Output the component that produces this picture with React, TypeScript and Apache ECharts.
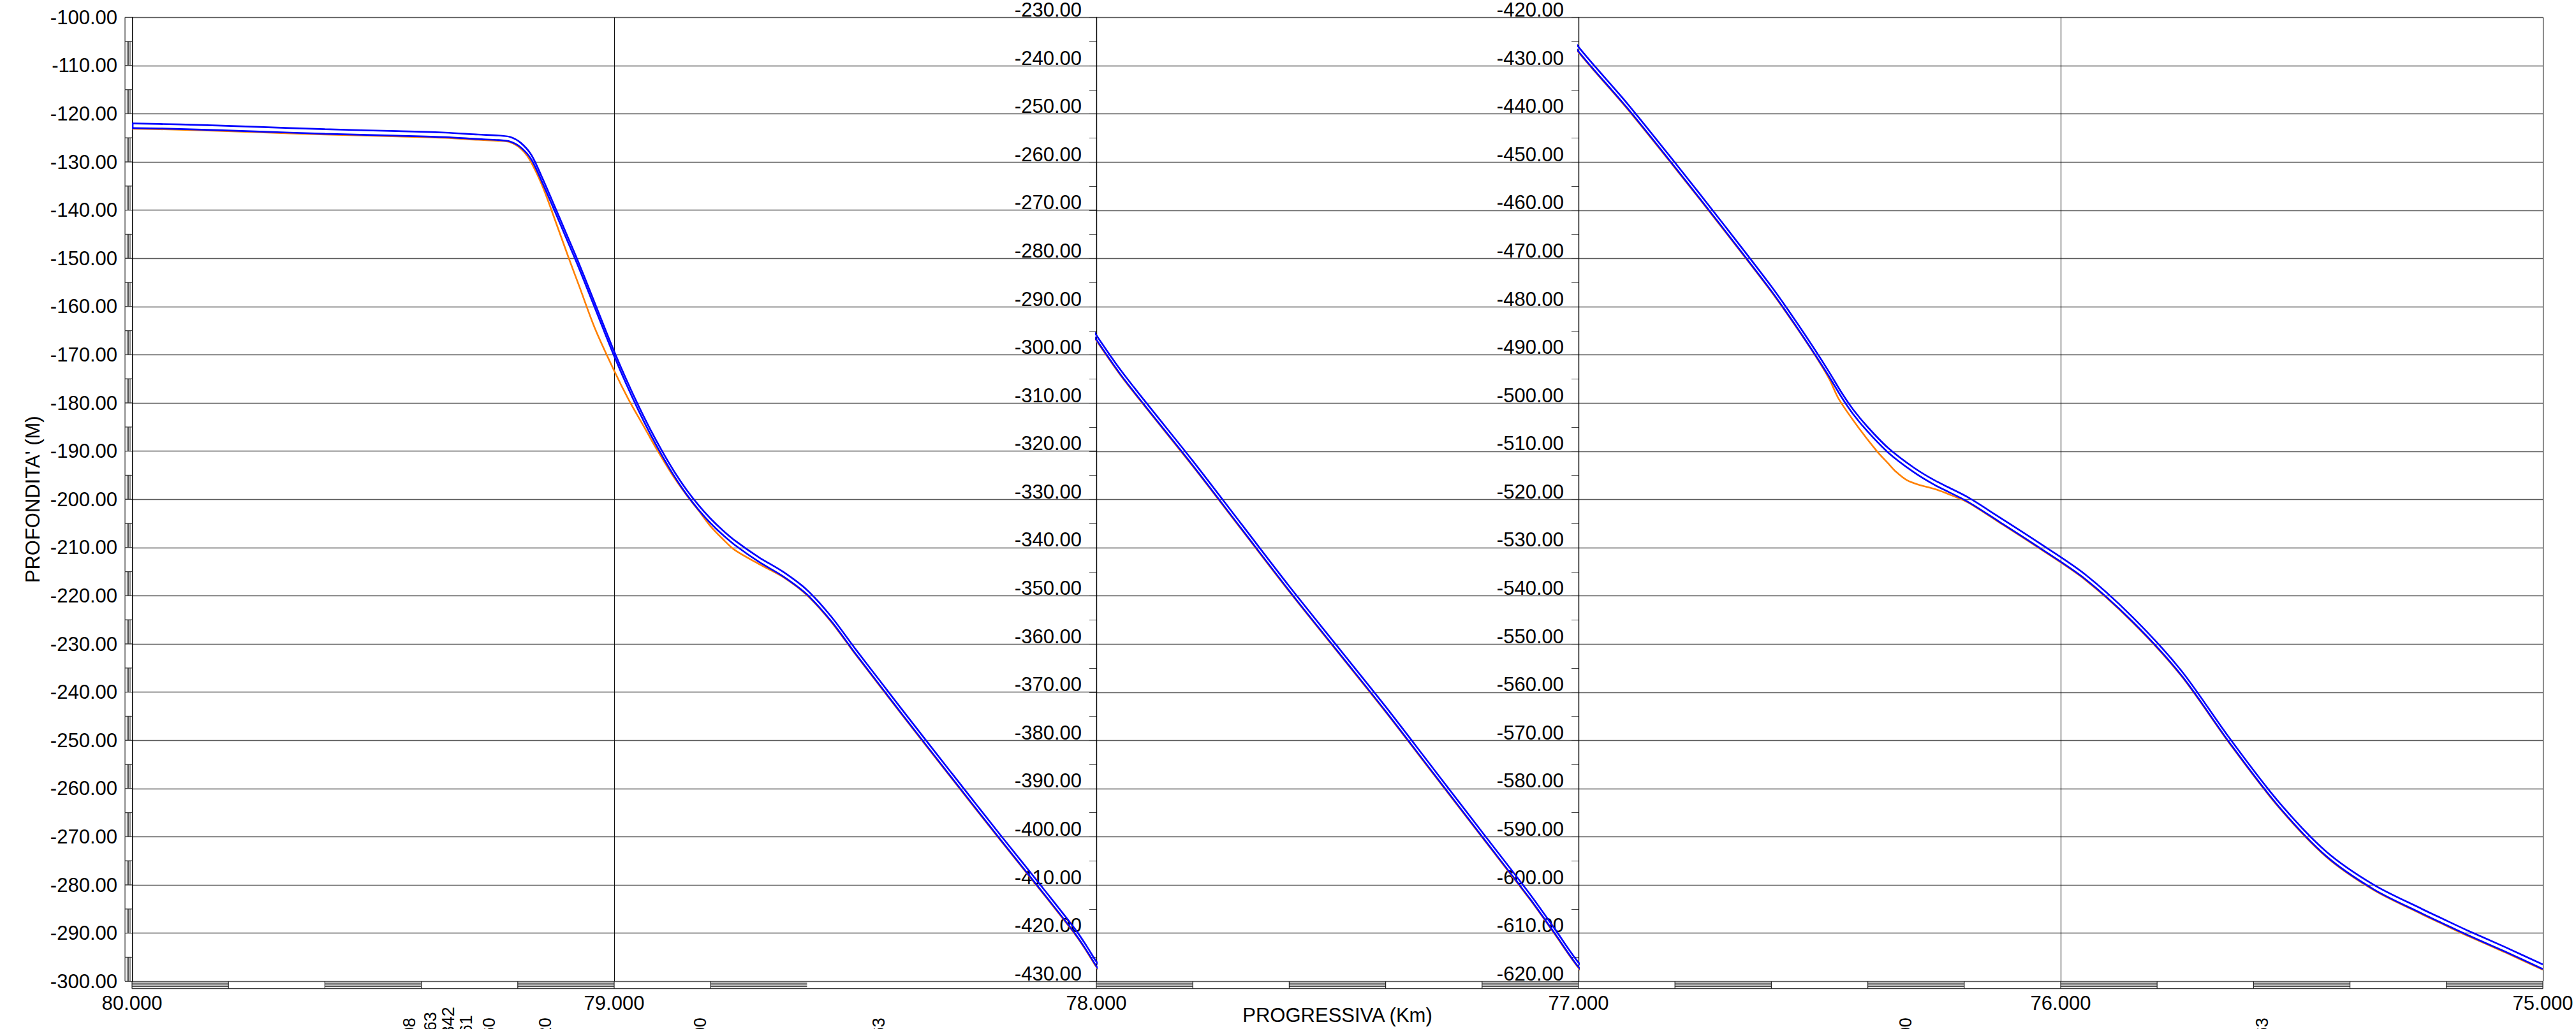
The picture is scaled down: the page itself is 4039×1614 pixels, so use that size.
import React, { useEffect, useRef } from "react";
import * as echarts from "echarts";

// ---------------- DATA ----------------
const panelKmFrom = [80, 78, 77];
const panelKmTo = [78, 77, 75];
const panelDepthTop = [-100, -230, -420];
const panelDepthBottom = [-300, -430, -620];
const kmTickLabels = ["80.000", "79.000", "78.000", "77.000", "76.000", "75.000"];
const PIPE_DIAMETER = 0.95; // m, distance between the two blue lines

// top of the pipeline (upper blue line): [km, depth m]
const pipeTop = [
  [80.0, -122.0], [79.9, -122.2], [79.745, -122.7], [79.6, -123.2], [79.45, -123.6],
  [79.35, -123.9], [79.282, -124.3], [79.24, -124.5], [79.216, -124.8], [79.194, -126.0],
  [79.172, -128.5], [79.15, -133.1], [79.123, -139.3], [79.1, -144.7], [79.077, -150.1],
  [79.05, -156.8], [79.025, -163.1], [79.0, -169.3], [78.975, -175.1], [78.95, -180.5],
  [78.925, -185.5], [78.9, -190.1], [78.875, -194.3], [78.85, -198.0], [78.825, -201.2],
  [78.8, -204.0], [78.775, -206.4], [78.75, -208.5], [78.7, -212.0], [78.65, -215.0],
  [78.6, -218.8], [78.55, -224.3], [78.5, -231.0], [78.45, -237.5], [78.4, -244.0],
  [78.3, -256.8], [78.2, -269.5], [78.1, -282.0], [78.043, -289.3], [78.02, -292.7],
  [78.0, -295.9],
  [77.95, -303.1], [77.9, -309.5], [77.8, -322.0], [77.7, -335.0], [77.6, -348.0],
  [77.5, -360.5], [77.4, -373.0], [77.3, -386.0], [77.2, -399.0], [77.1, -412.0],
  [77.05, -419.0], [77.0, -426.1],
  [76.9, -437.7], [76.8, -450.1], [76.7, -462.8], [76.6, -475.8], [76.55, -482.9],
  [76.51, -488.9], [76.48, -493.6], [76.454, -497.9], [76.43, -501.4], [76.4, -505.0],
  [76.358, -509.3], [76.306, -513.3], [76.262, -516.0], [76.193, -519.5], [76.13, -523.5],
  [76.045, -529.0], [75.95, -535.5], [75.85, -544.5], [75.75, -555.5], [75.65, -569.5],
  [75.55, -582.5], [75.45, -593.0], [75.35, -600.0], [75.25, -605.0], [75.206, -607.1],
  [75.157, -609.4], [75.08, -612.8], [75.0, -616.5],
];

// seabed (orange): [km, depth m]
const seabed = [
  [80.0, -123.1], [79.9, -123.3], [79.745, -123.8], [79.6, -124.3], [79.45, -124.7],
  [79.35, -125.0], [79.282, -125.4], [79.24, -125.6], [79.216, -125.9], [79.194, -127.2],
  [79.176, -129.4], [79.15, -134.7], [79.13, -140.0], [79.094, -150.0], [79.072, -155.9],
  [79.04, -164.5], [79.0, -173.3], [78.97, -179.3], [78.94, -184.6], [78.91, -189.9],
  [78.88, -194.8], [78.85, -199.1], [78.825, -202.3], [78.8, -205.6], [78.775, -208.2],
  [78.75, -210.5], [78.7, -213.4], [78.65, -216.1], [78.6, -219.9], [78.55, -225.4],
  [78.5, -232.1], [78.45, -238.6], [78.4, -245.1], [78.3, -257.9], [78.2, -270.6],
  [78.1, -283.1], [78.043, -290.4], [78.02, -293.8], [78.0, -297.0],
  [77.95, -304.2], [77.9, -310.6], [77.8, -323.1], [77.7, -336.1], [77.6, -349.1],
  [77.5, -361.6], [77.4, -374.1], [77.3, -387.1], [77.2, -400.1], [77.1, -413.1],
  [77.05, -420.1], [77.0, -427.2],
  [76.9, -438.8], [76.8, -451.2], [76.7, -463.9], [76.6, -476.9], [76.55, -484.0],
  [76.51, -490.0], [76.48, -495.0], [76.46, -499.2], [76.42, -505.0], [76.381, -510.0],
  [76.358, -512.5], [76.341, -514.3], [76.319, -516.0], [76.296, -516.9], [76.262, -517.8],
  [76.235, -518.8], [76.193, -520.6], [76.13, -524.6], [76.045, -530.1], [75.95, -536.6],
  [75.85, -545.6], [75.75, -556.6], [75.65, -570.6], [75.55, -583.6], [75.45, -594.1],
  [75.35, -601.1], [75.25, -606.1], [75.206, -608.2], [75.157, -610.5], [75.08, -613.9],
  [75.0, -617.6],
];

// hatched blocks of the km scale bar, and its block borders
const stripHatched = [
  [80.0, 79.8], [79.6, 79.4], [79.2, 79.0], [78.8, 78.6], [78.0, 77.8], [77.6, 77.4],
  [77.2, 77.0], [76.8, 76.6], [76.4, 76.2], [76.0, 75.8], [75.6, 75.4], [75.2, 75.0],
];
const stripBreaks = [
  80.0, 79.8, 79.6, 79.4, 79.2, 79.0, 78.8, 78.0, 77.8, 77.6, 77.4, 77.2, 77.0,
  76.8, 76.6, 76.4, 76.2, 76.0, 75.8, 75.6, 75.4, 75.2, 75.0,
];

// rotated marker labels below the axis (cut by the page edge)
const markerKm = [79.425, 79.381, 79.344, 79.307, 79.259, 79.143, 78.821, 78.451, 76.321, 75.582];
const markerText = ["08", "63", "342", "61", "60", "20", "00", "63", "00", "63"];

// ---------------- LAYOUT / STYLE ----------------
const FONT = "'Liberation Sans', Arial, Helvetica, sans-serif";
const PLOT_LEFT = 207;
const PLOT_TOP = 27.3;
const PLOT_H = 1512;
const PX_PER_KM = 756;
const STRIP = 11.4;
const markerLift = [0, 9, 17, 4, 0, 0, 0, 0, 0, 0];
const GRID_COLOR = "#5c5c5c";
const STRIP_COLOR = "#3c3c3c";
const PIPE_W = 2.7;

function buildOption() {
  const kmStart = panelKmFrom[0];
  const kmEnd = panelKmTo[panelKmTo.length - 1];
  const nP = panelKmFrom.length;
  const grids: any[] = panelKmFrom.map((f, i) => ({
    left: PLOT_LEFT + (kmStart - f) * PX_PER_KM,
    top: PLOT_TOP,
    width: (f - panelKmTo[i]) * PX_PER_KM,
    height: PLOT_H,
    containLabel: false,
  }));
  const OV = nP;
  grids.push({
    left: PLOT_LEFT,
    top: PLOT_TOP,
    width: (kmStart - kmEnd) * PX_PER_KM,
    height: PLOT_H,
    containLabel: false,
  });

  const xAxes: any[] = panelKmFrom.map((f, i) => ({
    type: "value",
    gridIndex: i,
    min: panelKmTo[i],
    max: f,
    inverse: true,
    show: false,
  }));
  xAxes.push({
    type: "value",
    gridIndex: OV,
    min: kmEnd,
    max: kmStart,
    interval: 1,
    inverse: true,
    axisLine: { show: false },
    axisTick: { show: false },
    axisLabel: {
      show: true,
      margin: 19,
      color: "#000",
      fontSize: 31,
      fontFamily: FONT,
      showMinLabel: true,
      showMaxLabel: true,
      formatter: (v: number) => {
        const idx = Math.round(kmStart - v);
        return kmTickLabels[idx] ?? v.toFixed(3);
      },
    },
    splitLine: { show: true, lineStyle: { color: "#111", width: 1.1 } },
  });

  const yAxes: any[] = panelKmFrom.map((_, i) => ({
    type: "value",
    gridIndex: i,
    min: panelDepthBottom[i],
    max: panelDepthTop[i],
    interval: 10,
    axisLine: { show: true, onZero: false, lineStyle: { color: "#000", width: 1.3 } },
    axisTick: { show: i > 0, length: 11, lineStyle: { color: "#444", width: 1 } },
    minorTick: { show: i > 0, splitNumber: 2, length: 11, lineStyle: { color: "#444", width: 1 } },
    axisLabel: {
      show: true,
      margin: 23,
      color: "#000",
      fontSize: 31,
      fontFamily: FONT,
      showMinLabel: true,
      showMaxLabel: true,
      verticalAlign: i === 0 ? "middle" : "bottom",
      lineHeight: i === 0 ? 31 : 24,
      formatter: (v: number) => v.toFixed(2),
    },
    splitLine: { show: true, lineStyle: { color: GRID_COLOR, width: 1.3 } },
  }));
  yAxes.push({ type: "value", gridIndex: OV, min: 0, max: 1, show: false });
  // hidden axes shifted by the pipe diameter: they draw the lower blue line from pipeTop
  panelKmFrom.forEach((_, i) => {
    yAxes.push({
      type: "value",
      gridIndex: i,
      min: panelDepthBottom[i] + PIPE_DIAMETER,
      max: panelDepthTop[i] + PIPE_DIAMETER,
      show: false,
    });
  });

  const series: any[] = [];
  panelKmFrom.forEach((_, i) => {
    series.push({
      type: "line", xAxisIndex: i, yAxisIndex: i, data: seabed,
      symbol: "none", smooth: 0.3, clip: true, silent: true, z: 3,
      lineStyle: { color: "#ff8000", width: 2.6 },
    });
    series.push({
      type: "line", xAxisIndex: i, yAxisIndex: OV + 1 + i, data: pipeTop,
      symbol: "none", smooth: 0.3, clip: true, silent: true, z: 4,
      lineStyle: { color: "#0000ff", width: PIPE_W },
    });
    series.push({
      type: "line", xAxisIndex: i, yAxisIndex: i, data: pipeTop,
      symbol: "none", smooth: 0.3, clip: true, silent: true, z: 4,
      lineStyle: { color: "#0000ff", width: PIPE_W },
    });
  });

  // left depth scale bar of the first panel (5 m blocks)
  const leftStrip: number[][] = [];
  for (let d = panelDepthTop[0], k = 0; d > panelDepthBottom[0]; d -= 5, k++) {
    leftStrip.push([panelKmFrom[0], d, d - 5, k % 2]);
  }
  series.push({
    type: "custom", xAxisIndex: 0, yAxisIndex: 0, data: leftStrip, silent: true, z: 6,
    renderItem: (params: any, api: any) => {
      const cs = params.coordSys;
      const xR = cs.x;
      const xL = cs.x - 11;
      const y1 = api.coord([api.value(0), api.value(1)])[1];
      const y2 = api.coord([api.value(0), api.value(2)])[1];
      const st = { stroke: STRIP_COLOR, lineWidth: 1.2 };
      const ch: any[] = [
        { type: "rect", shape: { x: xL, y: y1, width: 11, height: y2 - y1 }, style: { fill: "#fff" } },
        { type: "line", shape: { x1: xL, y1, x2: xR, y2: y1 }, style: st },
        { type: "line", shape: { x1: xL, y1: y2, x2: xR, y2 }, style: st },
        { type: "line", shape: { x1: xL, y1, x2: xL, y2 }, style: st },
      ];
      if (api.value(3)) {
        [3.4, 5.7, 8.0].forEach((o) =>
          ch.push({ type: "line", shape: { x1: xL + o, y1, x2: xL + o, y2 }, style: { stroke: STRIP_COLOR, lineWidth: 1.1 } })
        );
      }
      return { type: "group", children: ch };
    },
  });

  // bottom km scale bar: hatched blocks
  series.push({
    type: "custom", xAxisIndex: OV, yAxisIndex: OV,
    data: stripHatched.map((s) => [s[0], 0, s[1]]), silent: true, z: 6,
    renderItem: (params: any, api: any) => {
      const cs = params.coordSys;
      const y0 = cs.y + cs.height;
      const xa = api.coord([api.value(0), 0])[0];
      const xb = api.coord([api.value(2), 0])[0];
      const ch: any[] = [2.8, 5.6, 8.4].map((o) => ({
        type: "line", shape: { x1: xa, y1: y0 + o, x2: xb, y2: y0 + o },
        style: { stroke: STRIP_COLOR, lineWidth: 1.2 },
      }));
      return { type: "group", children: ch };
    },
  });
  // bottom km scale bar: borders + bottom line
  series.push({
    type: "custom", xAxisIndex: OV, yAxisIndex: OV,
    data: stripBreaks.map((k) => [k, 0]), silent: true, z: 6,
    renderItem: (params: any, api: any) => {
      const cs = params.coordSys;
      const y0 = cs.y + cs.height;
      const x = api.coord([api.value(0), 0])[0];
      const ch: any[] = [
        { type: "line", shape: { x1: x, y1: y0, x2: x, y2: y0 + STRIP }, style: { stroke: "#222", lineWidth: 1.2 } },
      ];
      if (params.dataIndex === 0) {
        ch.push({
          type: "line", shape: { x1: cs.x, y1: y0 + STRIP, x2: cs.x + cs.width, y2: y0 + STRIP },
          style: { stroke: STRIP_COLOR, lineWidth: 1.3 },
        });
      }
      return { type: "group", children: ch };
    },
  });
  // pipe end cap at the start of the profile
  series.push({
    type: "custom", xAxisIndex: 0, yAxisIndex: 0, data: [pipeTop[0]], silent: true, z: 5,
    renderItem: (params: any, api: any) => {
      const p1 = api.coord([api.value(0), api.value(1)]);
      const p2 = api.coord([api.value(0), api.value(1) - PIPE_DIAMETER]);
      return {
        type: "line", shape: { x1: p1[0] + 1, y1: p1[1], x2: p2[0] + 1, y2: p2[1] },
        style: { stroke: "#0000ff", lineWidth: PIPE_W },
      };
    },
  });
  // rotated marker labels
  series.push({
    type: "custom", xAxisIndex: OV, yAxisIndex: OV,
    data: markerKm.map((k) => [k, 0]), silent: true, z: 6,
    renderItem: (params: any, api: any) => {
      const cs = params.coordSys;
      const x = api.coord([api.value(0), 0])[0];
      const y = cs.y + cs.height + 57 - markerLift[params.dataIndex];
      return {
        type: "text", x, y, rotation: Math.PI / 2,
        style: {
          text: markerText[params.dataIndex], fill: "#000", fontSize: 27, fontFamily: FONT,
          align: "right", verticalAlign: "middle",
        },
      };
    },
  });

  return {
    animation: false,
    backgroundColor: "#ffffff",
    grid: grids,
    xAxis: xAxes,
    yAxis: yAxes,
    series,
    graphic: [
      {
        type: "text",
        x: PLOT_LEFT + ((kmStart - kmEnd) * PX_PER_KM) / 2,
        y: PLOT_TOP + PLOT_H + 53,
        style: { text: "PROGRESSIVA (Km)", fill: "#000", fontSize: 31, fontFamily: FONT, align: "center", verticalAlign: "middle" },
      },
      {
        type: "text",
        x: 51,
        y: PLOT_TOP + PLOT_H / 2,
        rotation: Math.PI / 2,
        style: { text: "PROFONDITA' (M)", fill: "#000", fontSize: 31, fontFamily: FONT, align: "center", verticalAlign: "middle" },
      },
    ],
  };
}

export default function App() {
  const ref = useRef<HTMLDivElement>(null);
  useEffect(() => {
    if (!ref.current) return;
    const chart = echarts.init(ref.current, undefined, { renderer: "svg" });
    chart.setOption(buildOption() as any);
    return () => chart.dispose();
  }, []);
  return (
    <div
      ref={ref}
      style={{ position: "absolute", left: 0, top: 0, width: 4039, height: 1614, background: "#fff", overflow: "hidden" }}
    />
  );
}
